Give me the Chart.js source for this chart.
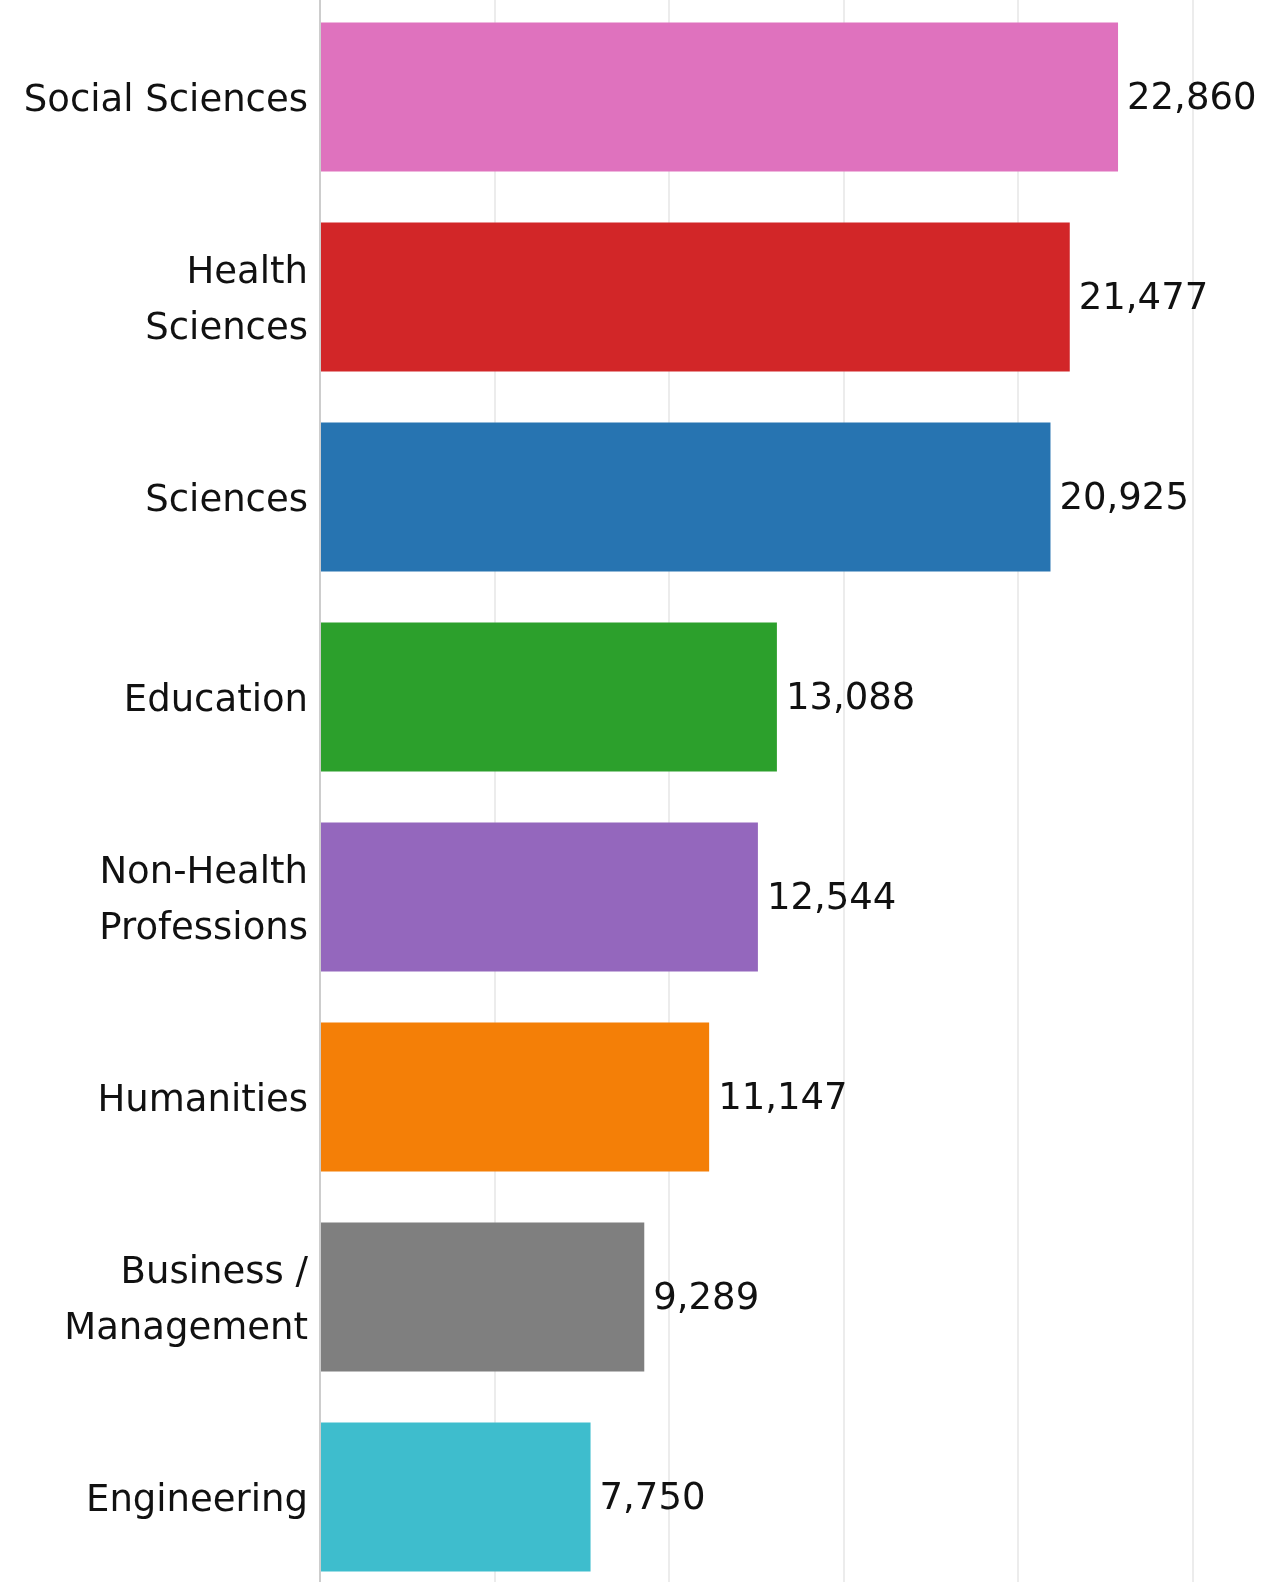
<!DOCTYPE html>
<html>
<head>
<meta charset="utf-8">
<script src="https://cdn.jsdelivr.net/npm/chart.js@4.4.1/dist/chart.umd.min.js"></script>
<style>
  html, body { margin: 0; padding: 0; background: #fff; overflow: hidden; }
  #wrap { position: absolute; left: 0; top: -3px; width: 1287px; height: 1600px; }
</style>
</head>
<body>
<div id="wrap"><canvas id="chart"></canvas></div>
<script>
// Categories (two-line labels as arrays)
const categories = [
  'Social Sciences',
  ['Health', 'Sciences'],
  'Sciences',
  'Education',
  ['Non-Health', 'Professions'],
  'Humanities',
  ['Business /', 'Management'],
  'Engineering'
];
const values = [22860, 21477, 20925, 13088, 12544, 11147, 9289, 7750];
const barColors = ['#df72be', '#d22628', '#2774b1', '#2ca02c', '#9467bd', '#f47f07', '#7f7f7f', '#3ebdcd'];
const gridTicks = [0, 5000, 10000, 15000, 20000, 25000];

const FONT = '"DejaVu Sans", Verdana, sans-serif';
const TEXT = '#111';
const LINE_H = 56;

// Category labels on the left and value labels at the bar ends
const textLabels = {
  id: 'textLabels',
  afterDatasetsDraw(chart) {
    const { ctx } = chart;
    const yScale = chart.scales.y;
    const meta = chart.getDatasetMeta(0);
    ctx.save();
    ctx.font = `37px ${FONT}`;
    ctx.fillStyle = TEXT;
    ctx.textBaseline = 'middle';

    ctx.textAlign = 'right';
    categories.forEach((label, i) => {
      const lines = Array.isArray(label) ? label : [label];
      const cy = yScale.getPixelForTick(i) + 4;
      lines.forEach((line, j) => {
        ctx.fillText(line, yScale.right - 12, cy + (j - (lines.length - 1) / 2) * LINE_H);
      });
    });

    ctx.textAlign = 'left';
    meta.data.forEach((bar, i) => {
      ctx.fillText(values[i].toLocaleString('en-US'), bar.x + 9, bar.y + 2);
    });
    ctx.restore();
  }
};

new Chart(document.getElementById('chart'), {
  type: 'bar',
  data: {
    labels: categories,
    datasets: [{
      data: values,
      backgroundColor: barColors,
      borderWidth: 0,
      barPercentage: 0.745,
      categoryPercentage: 1.0
    }]
  },
  options: {
    indexAxis: 'y',
    responsive: true,
    maintainAspectRatio: false,
    animation: false,
    layout: { padding: 0 },
    plugins: {
      legend: { display: false },
      tooltip: { enabled: false }
    },
    scales: {
      x: {
        min: 0,
        max: 27700,
        afterBuildTicks: scale => { scale.ticks = gridTicks.map(v => ({ value: v })); },
        ticks: { display: false },
        grid: { color: '#ececec', lineWidth: 2, drawTicks: false },
        border: { display: false },
        afterFit: scale => { scale.height = 0; scale.paddingLeft = 0; scale.paddingRight = 0; }
      },
      y: {
        afterFit: scale => {
          scale.width = 320;
          scale.paddingTop = 0;
          scale.paddingBottom = 0;
        },
        ticks: { display: false },
        grid: { display: false, drawTicks: false },
        border: { display: true, color: '#cdcdcd', width: 2 }
      }
    }
  },
  plugins: [textLabels]
});
</script>
</body>
</html>
